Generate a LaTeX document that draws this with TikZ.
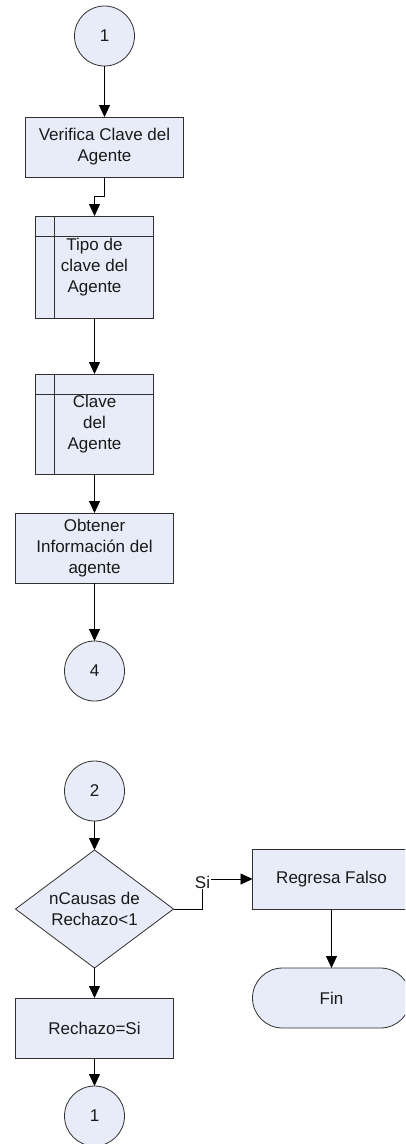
\documentclass[tikz,border=0pt]{standalone}
\usepackage{fontspec}
\setmainfont{Liberation Sans}
\usepackage{xcolor}
\usepackage{tikz}
\usetikzlibrary{shapes,arrows.meta,positioning,calc}

\definecolor{boxfill}{HTML}{E8ECF8}
\definecolor{boxline}{HTML}{303030}

\begin{document}
\begin{tikzpicture}[
        x=1pt, y=-1pt,
        font=\fontsize{17}{21}\selectfont,
        every node/.style={text=black!90, outer sep=0pt, inner sep=0pt, align=center},
        conector/.style={circle, draw=boxline, fill=boxfill, line width=0.8pt, minimum size=60pt},
        proceso/.style={rectangle, draw=boxline, fill=boxfill, line width=0.8pt, minimum width=158pt, minimum height=60pt},
        subproceso/.style={rectangle, draw=boxline, fill=boxfill, line width=0.8pt, minimum width=118pt, minimum height=100pt},
        decision/.style={diamond, aspect=1.34, draw=boxline, fill=boxfill, line width=0.8pt, minimum width=158pt, minimum height=118pt},
        terminal/.style={rectangle, rounded corners=30pt, draw=boxline, fill=boxfill, line width=0.8pt, minimum width=158pt, minimum height=60pt},
        arrow/.style={-{Triangle[width=11pt,length=12pt]}, line width=0.8pt, black}
    ]
        \useasboundingbox (0,0) rectangle (405,1144);
        \clip (0,0) rectangle (405,1144);

        % First part
        \node[conector] (c1) at (104.5,36) {1};
        \node[proceso, below=51pt of c1] (verif) {Verifica Clave del\\Agente};
        \node[subproceso, minimum height=102pt, below=39pt of verif, xshift=-10pt] (tipo) {Tipo de\\clave del\\Agente};
        \node[subproceso, below=56pt of tipo] (clave) {Clave\\del\\Agente};
        \node[proceso, minimum height=70pt, below=39pt of clave] (obt) {Obtener\\Información del\\agente};
        \node[conector, below=58pt of obt] (c4) {4};

        % Inner lines of the subprocesses
        \draw[boxline, line width=0.8pt] ([xshift=19pt]tipo.north west) -- ([xshift=19pt]tipo.south west);
        \draw[boxline, line width=0.8pt] ([yshift=-20pt]tipo.north west) -- ([yshift=-20pt]tipo.north east);
        \draw[boxline, line width=0.8pt] ([xshift=19pt]clave.north west) -- ([xshift=19pt]clave.south west);
        \draw[boxline, line width=0.8pt] ([yshift=-20pt]clave.north west) -- ([yshift=-20pt]clave.north east);

        % Second part
        \node[conector, below=60pt of c4] (c2) {2};
        \node[decision, below=29pt of c2] (dec) {nCausas de\\Rechazo<1};
        \node[proceso, below=30pt of dec] (rech) {Rechazo=Si};
        \node[conector, below=28pt of rech] (c1b) {1};
        \node[proceso, right=79pt of dec, yshift=30pt] (falso) {Regresa Falso};
        \node[terminal, below=59pt of falso] (fin) {Fin};

        % Connections
        \draw[arrow] (c1) -- (verif);
        \draw[arrow] (verif.south) -- ++(0,19) -| (tipo.north);
        \draw[arrow] (tipo) -- (clave);
        \draw[arrow] (clave) -- (obt);
        \draw[arrow] (obt) -- (c4);

        \draw[arrow] (c2) -- (dec);
        \draw[arrow] (dec) -- (rech);
        \draw[arrow] (rech) -- (c1b);
        \draw[arrow] (dec.east) -- ++(29,0) |- node[pos=0.5, fill=white, inner sep=1pt, yshift=-3pt] (si) {Si} (falso.west);
        \draw[arrow] (falso) -- (fin);

    \end{tikzpicture}
\end{document}
